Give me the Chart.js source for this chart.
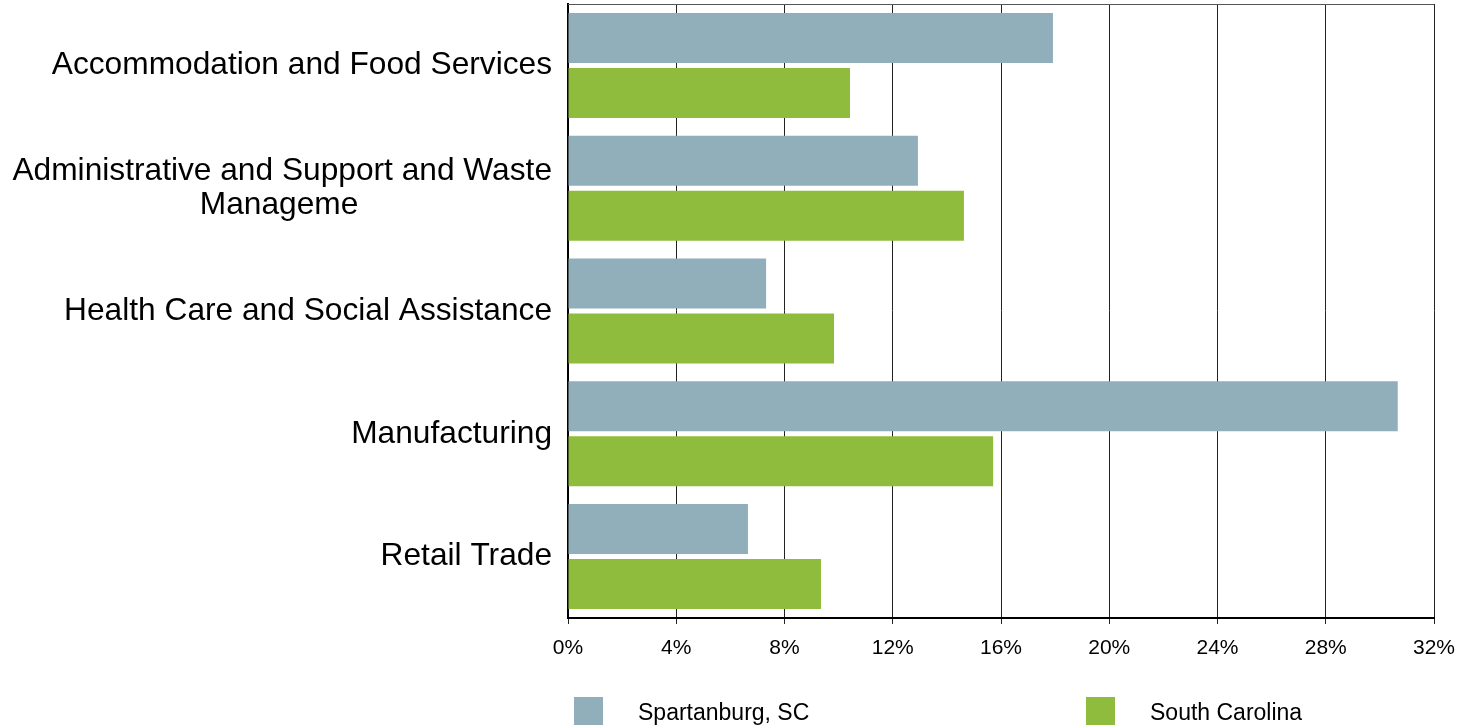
<!DOCTYPE html>
<html>
<head>
<meta charset="utf-8">
<script src="https://cdn.jsdelivr.net/npm/chart.js@4.4.0/dist/chart.umd.min.js"></script>
<style>
  html, body { margin: 0; padding: 0; background: #fff; }
  #wrap { width: 1473px; height: 727px; position: relative; }
</style>
</head>
<body>
<div id="wrap"><canvas id="c" width="1473" height="727"></canvas></div>
<script>
const categories = [
  "Accommodation and Food Services",
  ["Administrative and Support and Waste", "Manageme"],
  "Health Care and Social Assistance",
  "Manufacturing",
  "Retail Trade"
];
const seriesNames = ["Spartanburg, SC", "South Carolina"];
const spartanburg = [17.92, 12.93, 7.32, 30.66, 6.65];
const southCarolina = [10.42, 14.63, 9.83, 15.71, 9.35];
const xTicks = [0, 4, 8, 12, 16, 20, 24, 28, 32];

const FONT = "'Liberation Sans', Arial, sans-serif";
const colors = ["#90afba", "#8fbc3c"];
const LABEL_SIZE = 31.7;

// center wrapped lines by padding with no-break spaces (right-aligned axis labels)
const mc = document.createElement('canvas').getContext('2d');
mc.font = LABEL_SIZE + "px " + FONT;
function centerLines(lines) {
  if (!Array.isArray(lines)) return lines;
  const widths = lines.map(l => mc.measureText(l).width);
  const maxW = Math.max(...widths);
  const sp = mc.measureText("\u00A0").width;
  return lines.map((l, i) => {
    const n = Math.round((maxW - widths[i]) / 2 / sp);
    return l + "\u00A0".repeat(n);
  });
}

const framePlugin = {
  id: 'frame',
  afterDatasetsDraw(chart) {
    const {ctx, chartArea: a} = chart;
    ctx.save();
    ctx.strokeStyle = '#555';
    ctx.lineWidth = 1;
    ctx.beginPath();
    ctx.moveTo(a.left, a.top + 0.5);
    ctx.lineTo(a.right, a.top + 0.5);
    ctx.stroke();
    ctx.restore();
  },
  afterDraw(chart) {
    const {ctx, chartArea: a} = chart;
    ctx.save();
    chart.data.datasets.forEach((ds, i) => {
      const x = a.left + 6 + i * 512;
      const y = 697;
      ctx.fillStyle = ds.backgroundColor;
      ctx.fillRect(x, y, 29, 28);
      ctx.fillStyle = '#000';
      ctx.font = "23px " + FONT;
      ctx.textBaseline = 'middle';
      ctx.textAlign = 'left';
      ctx.fillText(ds.label, x + 64, y + 17);
    });
    ctx.restore();
  }
};

new Chart(document.getElementById('c'), {
  type: 'bar',
  data: {
    labels: categories,
    datasets: [
      { label: seriesNames[0], data: spartanburg, backgroundColor: colors[0] },
      { label: seriesNames[1], data: southCarolina, backgroundColor: colors[1] }
    ]
  },
  options: {
    indexAxis: 'y',
    responsive: false,
    animation: false,
    devicePixelRatio: 1,
    categoryPercentage: 0.896,
    barPercentage: 0.909,
    layout: { padding: { top: 4, right: 39, bottom: 0, left: 0 } },
    plugins: { legend: { display: false }, tooltip: { enabled: false } },
    scales: {
      x: {
        min: 0, max: 32,
        afterBuildTicks(scale) { scale.ticks = xTicks.map(v => ({ value: v })); },
        afterFit(scale) { scale.height = 109; scale.paddingLeft = 0; scale.paddingRight = 0; },
        ticks: {
          callback: v => v + '%',
          color: '#000',
          font: { family: FONT, size: 21 },
          padding: 12
        },
        grid: { color: '#222', lineWidth: 1, tickLength: 6, drawTicks: true },
        border: { color: '#000', width: 2 }
      },
      y: {
        afterFit(scale) { scale.width = 568; scale.paddingTop = 0; scale.paddingBottom = 0; },
        ticks: {
          callback(value) { return centerLines(categories[value]); },
          color: '#000',
          font: { family: FONT, size: LABEL_SIZE, lineHeight: 1.1 },
          padding: 16
        },
        grid: { display: false, drawTicks: false },
        border: { color: '#000', width: 2 }
      }
    }
  },
  plugins: [framePlugin]
});
</script>
</body>
</html>
